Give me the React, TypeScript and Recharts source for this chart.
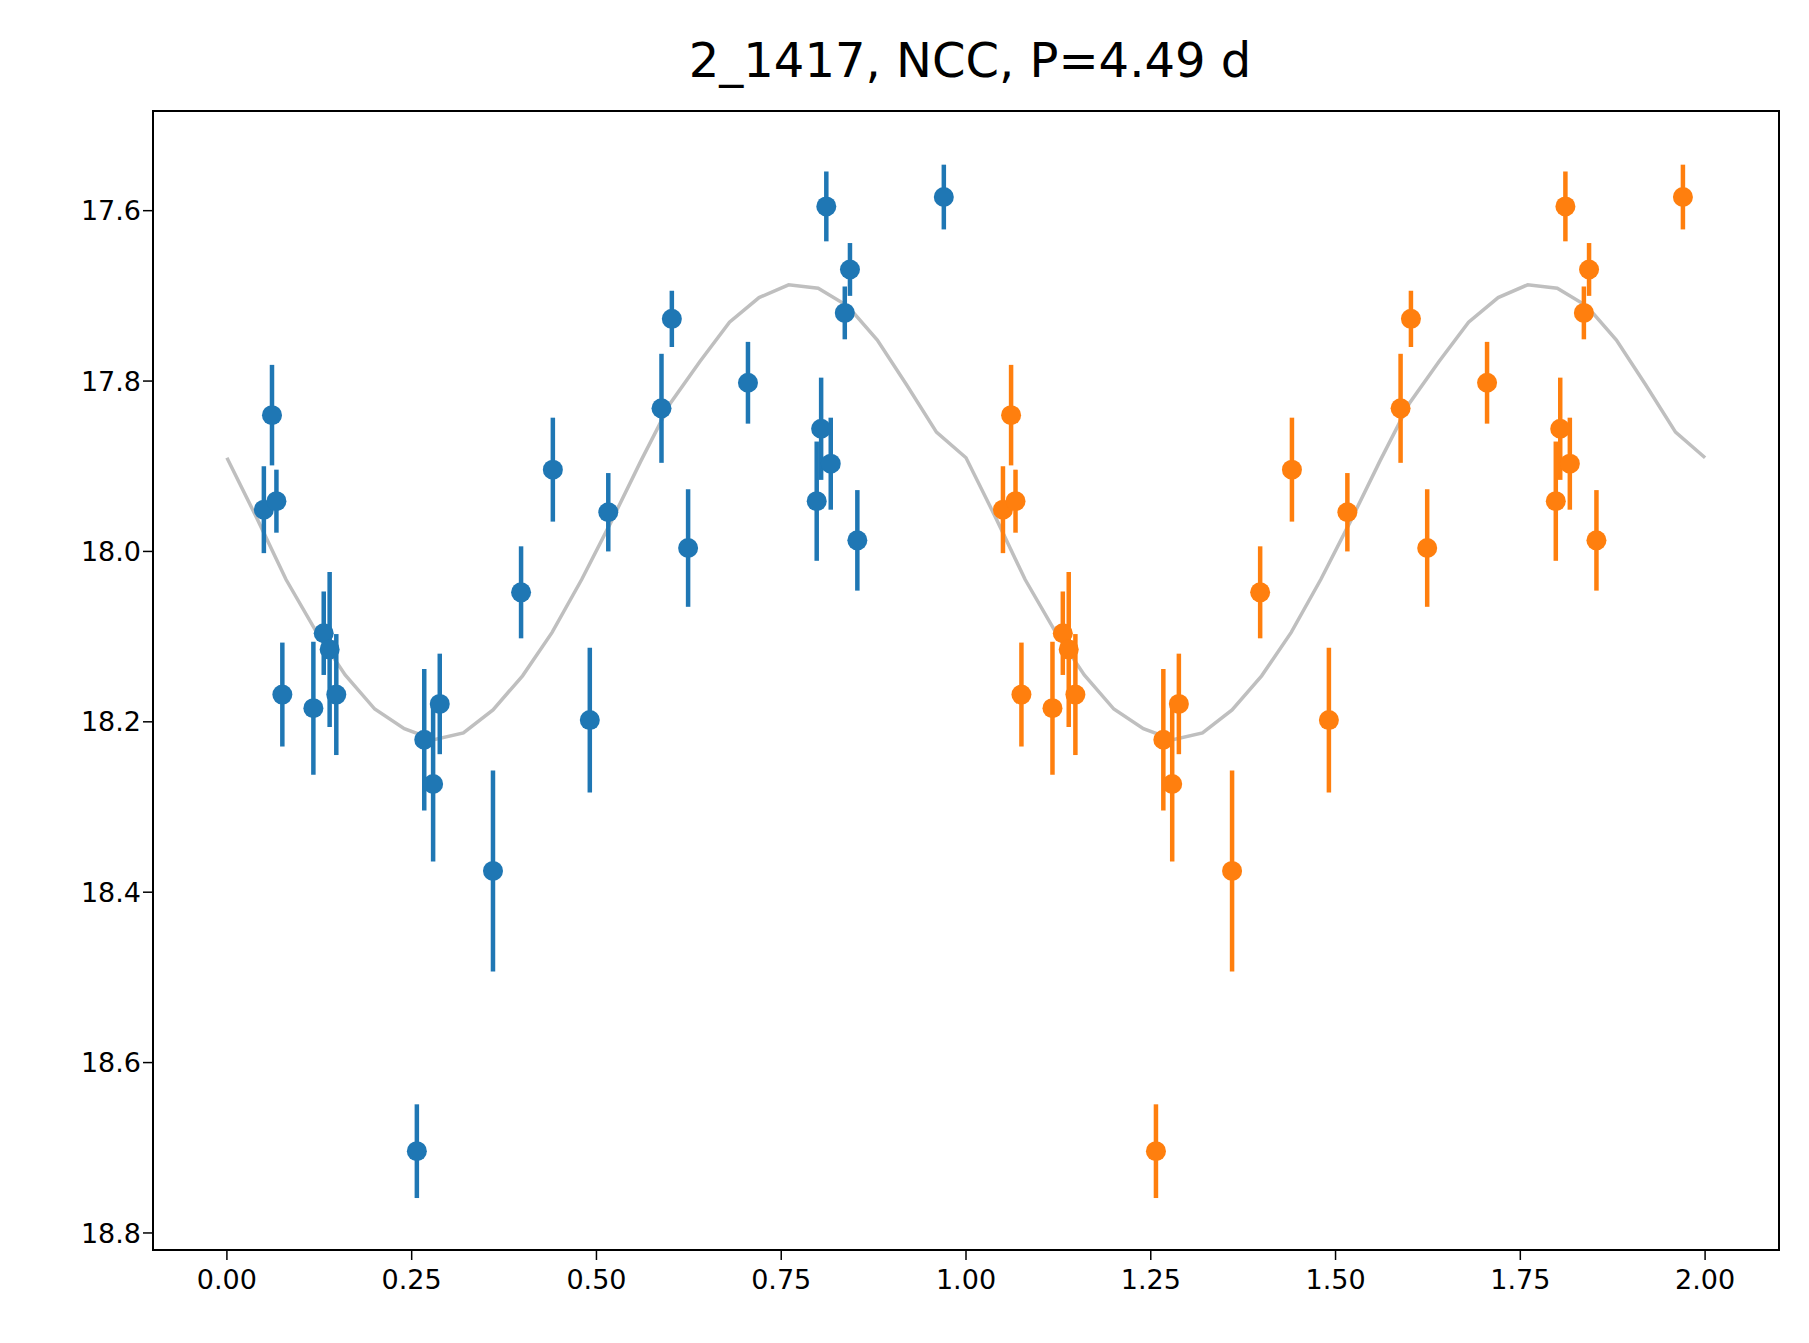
import React from 'react';
import {
  ComposedChart,
  Line,
  Scatter,
  ErrorBar,
  XAxis,
  YAxis,
  ReferenceArea,
} from 'recharts';

// phase, magnitude and error of each observation (first cycle)
const phase = [
  0.05, 0.061, 0.067, 0.075, 0.117, 0.131, 0.139, 0.148, 0.257, 0.267, 0.279,
  0.288, 0.36, 0.398, 0.441, 0.491, 0.516, 0.588, 0.602, 0.624, 0.705, 0.798,
  0.804, 0.811, 0.817, 0.836, 0.843, 0.853, 0.97,
];
const mag = [
  17.951, 17.84, 17.941, 18.168, 18.184, 18.096, 18.115, 18.168, 18.704,
  18.221, 18.273, 18.179, 18.375, 18.048, 17.904, 18.198, 17.954, 17.832,
  17.727, 17.996, 17.802, 17.941, 17.856, 17.595, 17.897, 17.72, 17.669,
  17.987, 17.584,
];
const magErr = [
  0.051, 0.059, 0.037, 0.061, 0.078, 0.049, 0.091, 0.071, 0.055, 0.083, 0.091,
  0.059, 0.118, 0.054, 0.061, 0.085, 0.046, 0.064, 0.033, 0.069, 0.048, 0.07,
  0.06, 0.041, 0.054, 0.031, 0.031, 0.059, 0.038,
];

// model curve, one period sampled every 0.04 in phase
const modelPhase = [
  0, 0.04, 0.08, 0.12, 0.16, 0.2, 0.24, 0.28, 0.32, 0.36, 0.4, 0.44, 0.48,
  0.52, 0.56, 0.6, 0.64, 0.68, 0.72, 0.76, 0.8, 0.84, 0.88, 0.92, 0.96,
];
const modelMag = [
  17.89, 17.96, 18.033, 18.093, 18.145, 18.185, 18.208, 18.221, 18.213,
  18.186, 18.146, 18.095, 18.033, 17.965, 17.894, 17.826, 17.777, 17.731,
  17.702, 17.687, 17.691, 17.712, 17.752, 17.805, 17.86,
];

const xTicks = [0, 0.25, 0.5, 0.75, 1, 1.25, 1.5, 1.75, 2];
const yTicks = [17.6, 17.8, 18.0, 18.2, 18.4, 18.6, 18.8];

const firstCycle = phase.map((p, i) => ({ x: p, y: mag[i], err: magErr[i] }));
const secondCycle = phase.map((p, i) => ({ x: p + 1, y: mag[i], err: magErr[i] }));
const model = [
  ...modelPhase.map((p, i) => ({ x: p, y: modelMag[i] })),
  ...modelPhase.map((p, i) => ({ x: p + 1, y: modelMag[i] })),
  { x: 2, y: modelMag[0] },
];

const font = 'DejaVu Sans, sans-serif';
const tickStyle = { fontSize: 27, fill: '#000', fontFamily: font };

const dot = (color: string) => (p: any) => (
  <circle cx={p.cx} cy={p.cy} r={10} fill={color} />
);

export default function App() {
  return (
    <div style={{ position: 'absolute', left: 0, top: 0, width: 1809, height: 1343, background: '#fff' }}>
      <div
        style={{
          position: 'absolute',
          left: 153,
          width: 1634,
          top: 32,
          textAlign: 'center',
          fontFamily: font,
          fontSize: 48,
        }}
      >
        2_1417, NCC, P=4.49 d
      </div>
      <ComposedChart
        width={1809}
        height={1343}
        margin={{ top: 111, right: 30, bottom: 0, left: 0 }}
      >
        <XAxis
          type="number"
          dataKey="x"
          domain={[-0.1, 2.1]}
          ticks={xTicks}
          allowDataOverflow
          tickFormatter={(v: number) => v.toFixed(2)}
          tick={{ ...tickStyle, dy: 8 }}
          height={93}
          axisLine={false}
          tickSize={10}
          tickLine={{ stroke: '#000', strokeWidth: 1.5 }}
        />
        <YAxis
          type="number"
          dataKey="y"
          reversed
          domain={[17.483, 18.82]}
          ticks={yTicks}
          allowDataOverflow
          tickFormatter={(v: number) => v.toFixed(1)}
          tick={tickStyle}
          width={153}
          axisLine={false}
          tickSize={10}
          tickLine={{ stroke: '#000', strokeWidth: 1.5 }}
        />
        <Line
          data={model}
          dataKey="y"
          type="linear"
          stroke="#bfbfbf"
          strokeWidth={3.5}
          dot={false}
          isAnimationActive={false}
        />
        <Scatter data={firstCycle} fill="#1f77b4" shape={dot('#1f77b4')} isAnimationActive={false}>
          <ErrorBar dataKey="err" direction="y" width={0} stroke="#1f77b4" strokeWidth={4.5} />
        </Scatter>
        <Scatter data={secondCycle} fill="#ff7f0e" shape={dot('#ff7f0e')} isAnimationActive={false}>
          <ErrorBar dataKey="err" direction="y" width={0} stroke="#ff7f0e" strokeWidth={4.5} />
        </Scatter>
        <ReferenceArea
          x1={-0.1}
          x2={2.1}
          y1={17.483}
          y2={18.82}
          fill="none"
          stroke="#000"
          strokeWidth={2}
          fillOpacity={0}
        />
      </ComposedChart>
    </div>
  );
}
